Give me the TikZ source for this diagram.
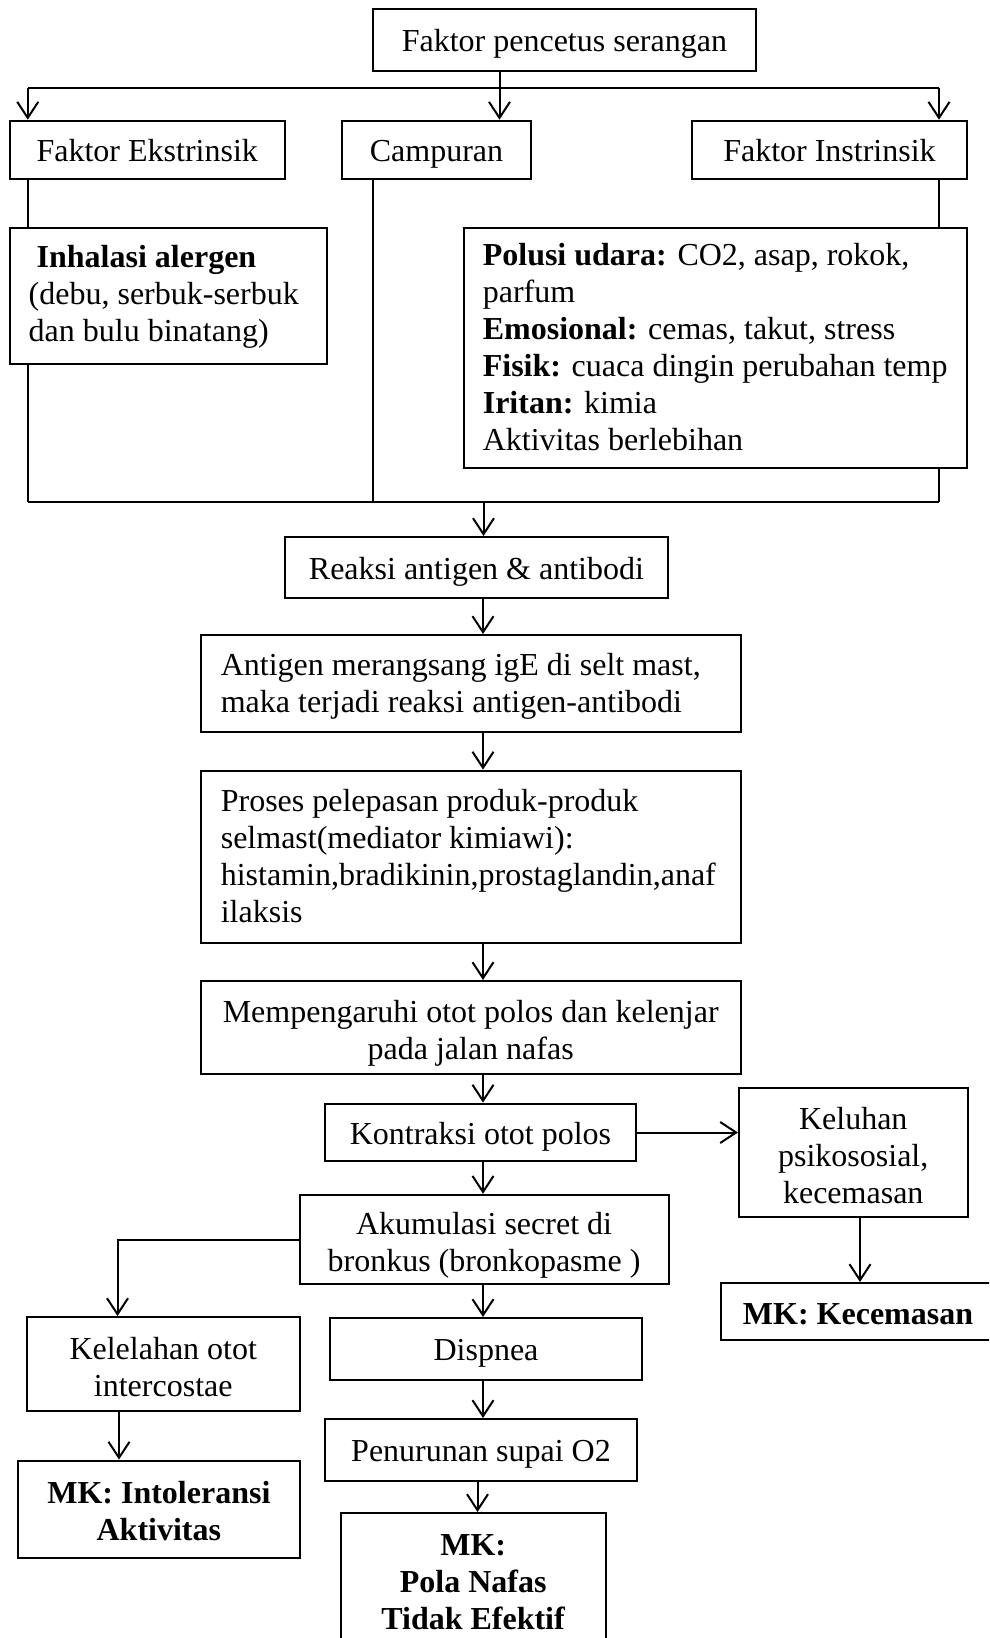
\documentclass[tikz,border=0pt]{standalone}
\usepackage{fontspec}
\setmainfont{Liberation Serif}
\usetikzlibrary{arrows.meta}
\newcommand{\mystrut}{\rule[-7pt]{0pt}{37pt}}
\newcommand{\tallstrut}[1]{\rule[-7pt]{0pt}{#1}}
\begin{document}
\begin{tikzpicture}[x=1pt,y=-1pt,
  every node/.style={font=\fontsize{32}{37}\selectfont, inner sep=0pt,
    execute at begin node=\mystrut, execute at end node=\mystrut},
  box/.style={draw, line width=2pt, rectangle, align=center},
  txt/.style={anchor=west, align=left, yshift=-2.5pt},
  ln/.style={line width=2pt},
  arr/.style={line width=2pt, -{Straight Barb[length=16pt,width=21pt]}}
]
\useasboundingbox (0,0) rectangle (989,1638);
\clip (0,0) rectangle (989,1638);

% top
\node[box, minimum width=383.3pt, minimum height=61.7pt] (T) at (564.4,39.9) {Faktor pencetus serangan};
\node[box, minimum width=275.5pt, minimum height=58.6pt] (E) at (147.25,150) {Faktor Ekstrinsik};
\node[box, minimum width=189pt, minimum height=58.6pt] (C) at (436.5,150) {Campuran};
\node[box, minimum width=275pt, minimum height=58.6pt] (I) at (829.5,150) {Faktor Instrinsik};

\node[box, minimum width=317.2pt, minimum height=136.3pt] (IA) at (168.1,295.85) {};
\node[txt, yshift=1.5pt] (IAt) at ([xshift=20pt]IA.west) {\hspace*{8pt}\textbf{Inhalasi alergen}\\(debu, serbuk-serbuk\\dan bulu binatang)};

\node[box, minimum width=503.4pt, minimum height=240.6pt] (PU) at (715.3,348) {};
\node[txt] (PUt) at ([xshift=20pt]PU.west) {\textbf{Polusi udara:} CO2, asap, rokok,\\parfum\\\textbf{Emosional:} cemas, takut, stress\\\textbf{Fisik:} cuaca dingin perubahan temp\\\textbf{Iritan:} kimia\\Aktivitas berlebihan};

% main column
\node[box, minimum width=383.5pt, minimum height=61.4pt] (RA) at (476.45,567.7) {Reaksi antigen \& antibodi};
\node[box, minimum width=540.2pt, minimum height=97.3pt] (AG) at (470.7,683.65) {};
\node[txt] (AGt) at ([xshift=21pt]AG.west) {Antigen merangsang igE di selt mast,\\maka terjadi reaksi antigen-antibodi};
\node[box, minimum width=540.2pt, minimum height=172.2pt] (PR) at (470.7,856.7) {};
\node[txt] (PRt) at ([xshift=21pt]PR.west) {Proses pelepasan produk-produk\\selmast(mediator kimiawi):\\histamin,bradikinin,prostaglandin,anaf\\ilaksis};
\node[box, minimum width=540.2pt, minimum height=93pt] (MP) at (470.7,1027.5) {\tallstrut{41pt}Mempengaruhi otot polos dan kelenjar\\pada jalan nafas};
\node[box, minimum width=311pt, minimum height=57.8pt] (KO) at (480.5,1132.5) {Kontraksi otot polos};
\node[box, minimum width=228.5pt, minimum height=129pt] (KE) at (853.25,1152) {\tallstrut{42pt}Keluhan\\psikososial,\\kecemasan};
\node[box, minimum width=284pt, minimum height=56.5pt] (MKK) at (863,1311.25) {};
\node[yshift=-2pt] (MKKt) at (858,1311.25) {\textbf{MK: Kecemasan}};
\node[box, minimum width=368.9pt, minimum height=89.65pt] (AK) at (484.05,1239.6) {\tallstrut{41pt}Akumulasi secret di\\bronkus (bronkopasme )};
\node[box, minimum width=273.5pt, minimum height=93.75pt] (KL) at (163.25,1363.9) {\tallstrut{42pt}Kelelahan otot\\intercostae};
\node[box, minimum width=282.3pt, minimum height=97.4pt] (MKI) at (158.85,1509.3) {\tallstrut{40pt}\textbf{MK: Intoleransi}\\\textbf{Aktivitas}};
\node[box, minimum width=312pt, minimum height=62pt] (DI) at (486,1349) {Dispnea};
\node[box, minimum width=312pt, minimum height=62pt] (PE) at (481,1450) {Penurunan supai O2};
\node[box, minimum width=264.5pt, minimum height=132pt] (MKP) at (473.25,1579) {\tallstrut{40pt}\textbf{MK:}\\\textbf{Pola Nafas}\\\textbf{Tidak Efektif}};

% coordinates
\coordinate (bm) at (499.5,88.3);
\coordinate (bl) at (27.75,88.3);
\coordinate (br) at (939,88.3);
\coordinate (jl) at (27.75,501.7);
\coordinate (jc) at (372.7,501.7);
\coordinate (jr) at (939,501.7);
\coordinate (jm) at (483.5,501.7);
\coordinate (colx) at (483,0);
\coordinate (kx) at (860,0);
\coordinate (lx) at (117.5,0);
\coordinate (lx2) at (119,0);
\coordinate (px) at (477.5,0);

% top connectors
\draw[ln] (T.south -| bm) -- (bm);
\draw[ln] (bl) -- (br);
\draw[arr] (bm) -- (C.north -| bm);
\draw[arr] (bl) -- (E.north -| bl);
\draw[arr] (br) -- (I.north -| br);

\draw[ln] (E.south -| bl) -- (IA.north -| bl);
\draw[ln] (IA.south -| bl) -- (jl);
\draw[ln] (C.south -| jc) -- (jc);
\draw[ln] (I.south -| br) -- (PU.north -| br);
\draw[ln] (PU.south -| br) -- (jr);
\draw[ln] (jl) -- (jr);
\draw[arr] (jm) -- (RA.north -| jm);

% column
\draw[arr] (RA.south -| colx) -- (AG.north -| colx);
\draw[arr] (AG.south -| colx) -- (PR.north -| colx);
\draw[arr] (PR.south -| colx) -- (MP.north -| colx);
\draw[arr] (MP.south -| colx) -- (KO.north -| colx);
\draw[arr] (KO.south -| colx) -- (AK.north -| colx);
\draw[arr] (AK.south -| colx) -- (DI.north -| colx);
\draw[arr] (DI.south -| colx) -- (PE.north -| colx);
\draw[arr] (PE.south -| px) -- (MKP.north -| px);

\draw[arr] (KO.east) -- (KO.east -| KE.west);
\draw[arr] (KE.south -| kx) -- (MKK.north -| kx);

\draw[arr] (AK.west) -| (KL.north -| lx);
\draw[arr] (KL.south -| lx2) -- (MKI.north -| lx2);
\end{tikzpicture}
\end{document}
